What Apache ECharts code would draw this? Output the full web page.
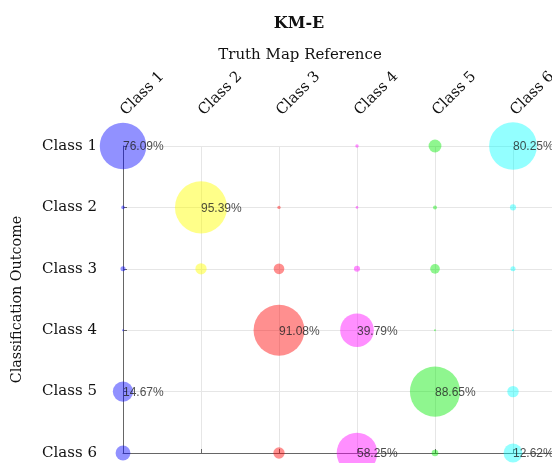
<!DOCTYPE html>
<html>
<head>
<meta charset="utf-8">
<script src="https://cdn.jsdelivr.net/npm/echarts@6/dist/echarts.min.js"></script>
<style>html,body{margin:0;padding:0;background:#fff}#c{width:552px;height:463px}</style>
</head>
<body>
<div id="c"></div>
<script>
// Truth classes (columns) and classification outcome classes (rows)
const truthClasses = ['Class 1', 'Class 2', 'Class 3', 'Class 4', 'Class 5', 'Class 6'];
const outcomeClasses = ['Class 1', 'Class 2', 'Class 3', 'Class 4', 'Class 5', 'Class 6'];
const classColors = ['rgba(0,0,255,0.54)', 'rgba(255,255,0,0.58)', 'rgba(255,0,0,0.55)',
                     'rgba(255,0,255,0.55)', 'rgba(0,235,0,0.55)', 'rgba(0,255,255,0.53)'];

// Percent of each truth class assigned to outcome Class 1..6
const truthClass1 = [76.09, 0.45, 0.9, 0.14, 14.67, 7.75];
const truthClass2 = [0, 95.39, 4.5, 0, 0, 0];
const truthClass3 = [0, 0.4, 4.0, 91.08, 0, 4.5];
const truthClass4 = [0.4, 0.25, 1.3, 39.79, 0, 58.25];
const truthClass5 = [5.8, 0.56, 3.3, 0.14, 88.65, 1.56];
const truthClass6 = [80.25, 1.3, 0.9, 0.14, 4.6, 12.62];
const columns = [truthClass1, truthClass2, truthClass3, truthClass4, truthClass5, truthClass6];

const labelThreshold = 10;
const serif = '"DejaVu Serif", "Liberation Serif", serif';
const sans = '"Liberation Sans", Arial, sans-serif';

const series = columns.map((vals, ci) => ({
  type: 'scatter',
  name: truthClasses[ci],
  xAxisIndex: 0,
  yAxisIndex: 0,
  clip: false,
  data: vals.map((v, ri) => [ci + 1, ri + 1, v]),
  symbolSize: d => d[2] > 0 ? 5.33 * Math.sqrt(d[2]) : 0,
  itemStyle: { color: classColors[ci] },
  label: {
    show: true,
    position: 'inside',
    align: 'left',
    verticalAlign: 'middle',
    color: '#222',
    fontFamily: sans,
    fontSize: 12,
    offset: [0, 1],
    formatter: p => p.value[2] >= labelThreshold ? p.value[2].toFixed(2) + '%' : ''
  },
  emphasis: { disabled: true }
}));

const chart = echarts.init(document.getElementById('c'), null, { renderer: 'canvas' });
chart.setOption({
  animation: false,
  backgroundColor: '#fff',
  title: [
    { text: 'KM-E', left: 294, top: 11, textAlign: 'center',
      textStyle: { fontFamily: serif, fontSize: 16, fontWeight: 'bold', color: '#111' } },
    { text: 'Truth Map Reference', left: 295, top: 43, textAlign: 'center',
      textStyle: { fontFamily: serif, fontSize: 15, fontWeight: 'normal', color: '#111' } }
  ],
  grid: { left: 123, right: 0, top: 146, bottom: 10, containLabel: false, outerBoundsMode: 'none' },
  xAxis: [
    {
      type: 'value', position: 'top', min: 1, max: 6.5, interval: 1,
      axisLine: { show: false, onZero: false },
      axisTick: { show: false },
      axisLabel: {
        rotate: -45, margin: 33, color: '#111', fontFamily: serif, fontSize: 15,
        formatter: v => Number.isInteger(v) ? truthClasses[v - 1] : ''
      },
      splitLine: { show: true, lineStyle: { color: '#e6e6e6', width: 1 } }
    },
    {
      type: 'value', position: 'bottom', min: 1, max: 6.5, interval: 1,
      axisLine: { show: true, onZero: false, lineStyle: { color: '#666', width: 1 } },
      axisTick: { show: true, inside: true, length: 4, lineStyle: { color: '#666' } },
      axisLabel: { show: false },
      splitLine: { show: false }
    }
  ],
  yAxis: {
    type: 'value', min: 1, max: 6, interval: 1, inverse: true,
    name: 'Classification Outcome', nameLocation: 'middle', nameGap: 99, nameRotate: 90,
    nameTextStyle: { fontFamily: serif, fontSize: 14.3, color: '#111' },
    axisLine: { show: true, onZero: false, lineStyle: { color: '#666', width: 1 } },
    axisTick: { show: true, inside: true, length: 4, lineStyle: { color: '#666' } },
    axisLabel: {
      margin: 26, color: '#111', fontFamily: serif, fontSize: 15,
      formatter: v => outcomeClasses[v - 1]
    },
    splitLine: { show: true, lineStyle: { color: '#e6e6e6', width: 1 } }
  },
  series: series
});
</script>
</body>
</html>
